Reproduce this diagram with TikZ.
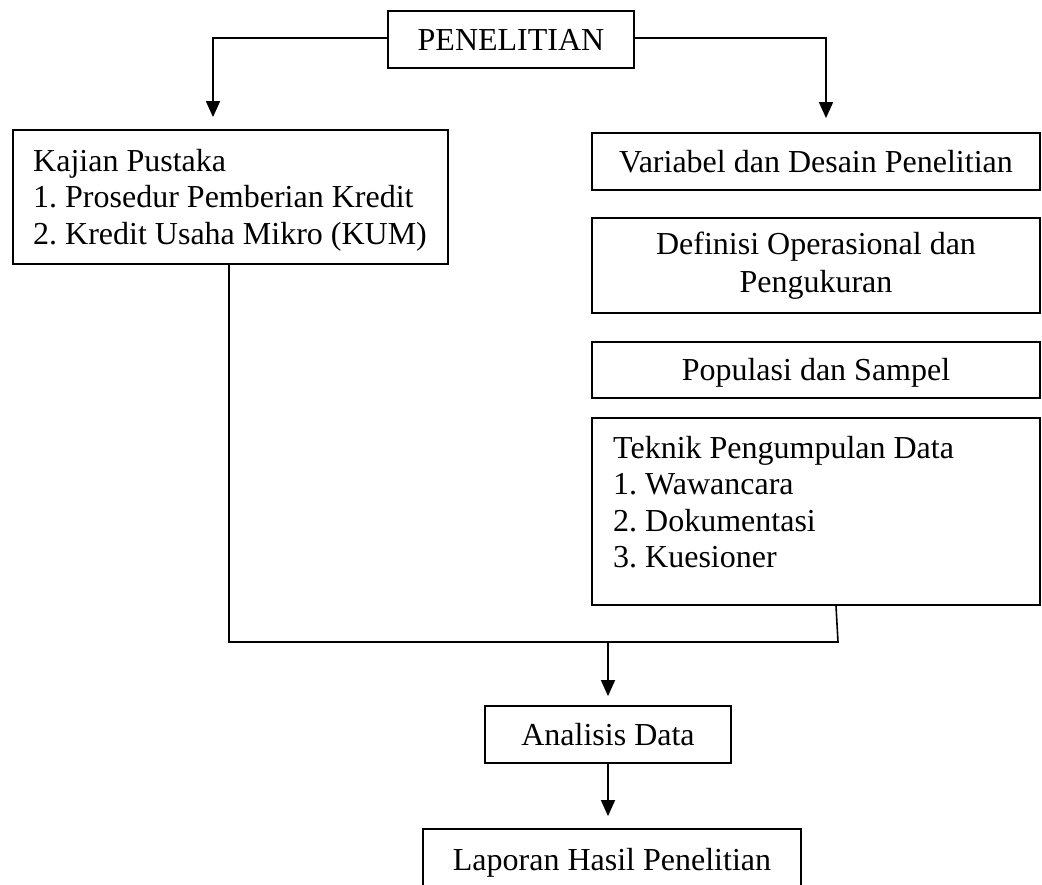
\documentclass[tikz,border=0pt]{standalone}
\usepackage{fontspec}
\setmainfont{Liberation Serif}
\usetikzlibrary{arrows.meta,calc}
\frenchspacing
\begin{document}
\begin{tikzpicture}[x=1pt,y=-1pt,
  diagbox/.style={draw=black,line width=1.8pt,rectangle,inner sep=0pt,font=\fontsize{32}{36.3}\selectfont},
  oneline/.style={text height=22pt,text depth=0pt},
  conn/.style={draw=black,line width=1.6pt},
  arr/.style={conn,-{Triangle[length=16pt,width=14pt]}},
  listtext/.style={inner sep=0pt,anchor=north west,align=left,font=\fontsize{32}{36.3}\selectfont}]
\clip (0,0) rectangle (1042,885);
\fill[white] (0,0) rectangle (1042,885);
% boxes
\node[diagbox,oneline,minimum width=246pt,minimum height=57pt] (pen) at (511,39.5) {PENELITIAN};
\node[diagbox,minimum width=435pt,minimum height=134pt] (kaj) at (230.5,197) {};
\node[diagbox,oneline,minimum width=448pt,minimum height=57pt] (var) at (816,161.5) {Variabel dan Desain Penelitian};
\node[diagbox,align=center,font=\fontsize{32}{38}\selectfont,minimum width=448pt,minimum height=95pt] (def) at (816,265.5) {Definisi Operasional dan\\Pengukuran};
\node[diagbox,oneline,minimum width=448pt,minimum height=56pt] (pop) at (816,370) {Populasi dan Sampel};
\node[diagbox,minimum width=448pt,minimum height=187pt] (tek) at (816,511.5) {};
\node[diagbox,oneline,minimum width=246pt,minimum height=57pt] (ana) at (608,734.5) {Analisis Data};
\node[diagbox,oneline,minimum width=378pt,minimum height=61pt] (lap) at (612,859.5) {Laporan Hasil Penelitian};
% texts in list boxes
\node[listtext] (kajtext) at (33,149.1) {Kajian Pustaka\\1. Prosedur Pemberian Kredit\\2. Kredit Usaha Mikro (KUM)};
\node[listtext] (tektext) at (613,436.1) {Teknik Pengumpulan Data\\1. Wawancara\\2. Dokumentasi\\3. Kuesioner};
% connectors
\draw[arr,shorten >=12pt] ([yshift=1.5pt]pen.west) -| ([xshift=-17.5pt]kaj.north);
\draw[arr,shorten >=14pt] ([yshift=1.5pt]pen.east) -| ([xshift=10pt]var.north);
\coordinate (join) at (838,642);
\draw[conn] ([xshift=-1.5pt]kaj.south) |- (join) -- ([xshift=20pt]tek.south);
\draw[arr,shorten >=9pt] (ana.north |- join) -- (ana.north);
\draw[arr,shorten >=12pt] (ana.south) -- (ana.south |- lap.north);
\end{tikzpicture}
\end{document}
